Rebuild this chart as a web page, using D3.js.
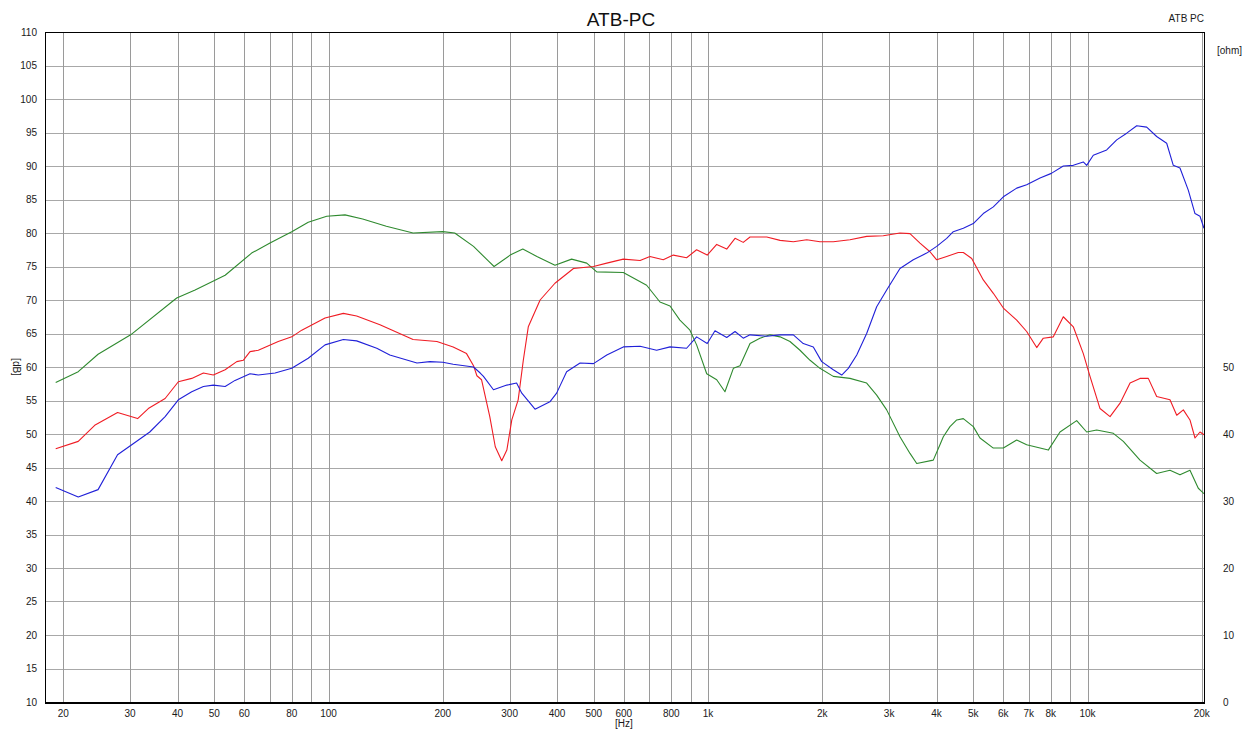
<!DOCTYPE html>
<html><head><meta charset="utf-8">
<script src="https://cdn.jsdelivr.net/npm/d3@7"></script>
<style>
html,body{margin:0;padding:0;background:#fff;}
svg{display:block;font-family:"Liberation Sans",Arial,sans-serif;}
</style></head>
<body>
<svg id="chart" width="1245" height="739"></svg>
<script>
// ---- data ----
const title = "ATB-PC";
const tagText = "ATB PC";
const gridFreqs = [20,30,40,50,60,70,80,90,100,200,300,400,500,600,700,800,900,1000,2000,3000,4000,5000,6000,7000,8000,9000,10000,20000];
const freqLabels = {20:"20",30:"30",40:"40",50:"50",60:"60",80:"80",100:"100",200:"200",300:"300",400:"400",500:"500",600:"600",800:"800",1000:"1k",2000:"2k",3000:"3k",4000:"4k",5000:"5k",6000:"6k",7000:"7k",8000:"8k",10000:"10k",20000:"20k"};
const dbTicks = d3.range(10, 111, 5);
const ohmTicks = [0,10,20,30,40,50];

const greenSeries = [[19.1,57.7],[21.9,59.3],[24.7,61.9],[30.1,64.8],[39.8,70.3],[44.5,71.5],[53.4,73.7],[62.7,77.0],[70.1,78.5],[80,80.2],[88.4,81.6],[98.9,82.5],[110.5,82.7],[123,82.1],[142,81.0],[167,80.0],[200,80.2],[215,80.0],[241,78.0],[264,75.8],[273,75.0],[301,76.7],[325,77.6],[354,76.5],[395,75.2],[437,76.1],[479,75.5],[509,74.2],[598,74.1],[689,72.2],[747,69.7],[794,69.1],[843,67.0],[896,65.5],[933,63.3],[992,59.0],[1054,58.1],[1108,56.3],[1166,59.8],[1214,60.2],[1290,63.5],[1370,64.3],[1456,64.8],[1548,64.5],[1644,63.8],[1747,62.5],[1857,61.0],[1972,59.8],[2138,58.6],[2366,58.3],[2618,57.6],[2782,55.8],[2956,53.6],[3204,49.6],[3405,47.1],[3547,45.6],[3922,46.1],[4084,48.4],[4168,49.6],[4340,51.1],[4521,52.1],[4706,52.3],[5000,51.1],[5207,49.4],[5646,47.9],[6000,47.9],[6506,49.1],[6912,48.4],[7496,47.9],[7880,47.6],[8460,50.3],[9362,52.0],[9948,50.3],[10570,50.6],[11694,50.1],[12424,48.9],[13746,46.1],[15210,44.1],[16490,44.6],[17520,43.9],[18616,44.6],[19580,41.9],[20270,41.1]];

const redSeries = [[19.1,47.8],[21.9,48.9],[24.2,51.3],[27.8,53.2],[31.4,52.3],[33.5,53.8],[37.1,55.3],[40.2,57.8],[43.6,58.3],[46.8,59.1],[49.7,58.8],[53.4,59.6],[57.3,60.8],[59.6,61.0],[62.1,62.3],[65.3,62.5],[73.7,63.8],[80,64.5],[85,65.5],[97.9,67.3],[109.4,68.0],[118.6,67.6],[136.6,66.3],[167,64.1],[193,63.8],[213,63.0],[231,62.0],[241,60.2],[246,58.7],[253,58.1],[266,52.6],[275,48.1],[286,46.0],[295,47.6],[304,52.1],[316,55.1],[326,61.0],[336,66.0],[361,70.0],[395,72.5],[442,74.7],[499,75.0],[541,75.5],[598,76.1],[662,75.9],[703,76.5],[762,76.0],[810,76.7],[878,76.3],[933,77.5],[995,76.7],[1054,78.3],[1120,77.6],[1178,79.2],[1238,78.6],[1290,79.4],[1428,79.4],[1548,78.9],[1678,78.7],[1820,79.0],[1972,78.7],[2138,78.7],[2366,79.0],[2618,79.5],[2896,79.6],[3204,80.0],[3405,79.9],[3618,78.5],[3844,77.2],[4004,76.0],[4254,76.5],[4564,77.1],[4706,77.1],[4952,76.2],[5312,73.0],[5646,71.0],[6000,68.8],[6506,67.0],[6912,65.3],[7346,62.9],[7646,64.3],[8124,64.5],[8632,67.5],[9172,66.0],[9746,62.0],[10150,58.6],[10786,53.8],[11462,52.6],[12180,54.6],[12942,57.6],[13746,58.3],[14458,58.3],[15210,55.6],[16490,55.1],[17178,52.8],[17882,53.6],[18616,52.1],[19192,49.4],[19784,50.3],[20270,49.9]];

const blueSeries = [[19.1,42.0],[21.9,40.6],[24.7,41.7],[27.8,46.9],[30.3,48.4],[33.8,50.3],[37.1,52.6],[40.2,55.1],[43.6,56.3],[46.8,57.1],[49.7,57.3],[53.4,57.1],[56.7,58.0],[62.1,59.0],[65.3,58.8],[72.3,59.1],[80,59.8],[88.4,61.3],[97.9,63.3],[109.4,64.1],[118.6,63.9],[134,62.8],[145,61.8],[171,60.6],[185,60.8],[200,60.7],[213,60.4],[241,60.0],[251,59.1],[256,58.6],[272,56.6],[295,57.3],[313,57.6],[323,56.1],[350,53.7],[383,54.8],[399,56.1],[424,59.3],[460,60.6],[499,60.5],[541,61.8],[598,63.0],[662,63.1],[732,62.5],[794,63.0],[878,62.8],[933,64.5],[995,63.5],[1043,65.4],[1120,64.4],[1178,65.3],[1238,64.3],[1290,64.8],[1428,64.6],[1548,64.8],[1678,64.8],[1782,63.5],[1894,63.0],[1993,60.8],[2138,59.6],[2250,58.8],[2342,59.8],[2465,61.8],[2618,65.0],[2782,69.0],[2956,71.5],[3204,74.7],[3474,76.0],[3768,77.0],[4004,78.0],[4254,79.2],[4428,80.2],[4706,80.7],[5000,81.4],[5312,82.9],[5646,83.9],[6000,85.4],[6506,86.7],[6912,87.2],[7496,88.2],[8028,88.9],[8632,90.0],[9172,90.1],[9746,90.6],[9948,90.1],[10354,91.6],[11232,92.4],[11936,93.9],[12682,94.9],[13476,96.0],[14316,95.8],[15210,94.4],[16164,93.4],[16824,90.1],[17520,89.7],[18426,86.4],[19192,82.9],[19784,82.5],[20270,80.7]];

// ---- chart ----
const svg = d3.select("#chart");
const L = 45, R = 1204, T = 32, B = 702;
const x = d3.scaleLog().domain([17.9, 20270]).range([L, R]);
const y = d3.scaleLinear().domain([10, 110]).range([B, T]);
const ohmY = d3.scaleLinear().domain([0, 100]).range([B, T]);
const px = v => Math.round(v) + 0.5;

const grid = svg.append("g").attr("shape-rendering","crispEdges");
grid.selectAll("line.h").data(dbTicks).join("line")
  .attr("x1", L).attr("x2", R).attr("y1", d => px(y(d))).attr("y2", d => px(y(d)))
  .attr("stroke", "#a8a8a8").attr("stroke-width", 1);
grid.selectAll("line.v").data(gridFreqs).join("line")
  .attr("y1", T).attr("y2", B).attr("x1", d => px(x(d))).attr("x2", d => px(x(d)))
  .attr("stroke", "#9a9a9a").attr("stroke-width", 1);

// curves
const line = d3.line().x(d => x(d[0])).y(d => y(d[1]));
svg.append("clipPath").attr("id","pc").append("rect").attr("x",L).attr("y",T).attr("width",R-L).attr("height",B-T);
const curves = svg.append("g").attr("clip-path","url(#pc)").attr("fill","none").attr("stroke-width",1.1).attr("stroke-linejoin","round");
curves.append("path").datum(greenSeries).attr("d", line).attr("stroke", "#2f8a2f");
curves.append("path").datum(redSeries).attr("d", line).attr("stroke", "#f01c24");
curves.append("path").datum(blueSeries).attr("d", line).attr("stroke", "#2020d8");

// frame
const frame = svg.append("g").attr("shape-rendering","crispEdges").attr("stroke","#000");
frame.append("line").attr("x1",L).attr("x2",R+1).attr("y1",T+0.5).attr("y2",T+0.5).attr("stroke-width",1);
frame.append("line").attr("x1",L).attr("x2",R+1).attr("y1",B+0.5).attr("y2",B+0.5).attr("stroke-width",2);
frame.append("line").attr("x1",L+0.5).attr("x2",L+0.5).attr("y1",T).attr("y2",B+1).attr("stroke-width",1.5);
frame.append("line").attr("x1",R+0.5).attr("x2",R+0.5).attr("y1",T).attr("y2",B+1).attr("stroke-width",1);

// left axis labels
const txt = svg.append("g").attr("fill","#1a1a1a").attr("font-size",10);
txt.selectAll("text.dl").data(dbTicks).join("text")
  .attr("x", 37).attr("y", d => y(d) + 3.5).attr("text-anchor","end").text(d => d);
// right axis labels
txt.selectAll("text.ol").data(ohmTicks).join("text")
  .attr("x", 1223).attr("y", d => ohmY(d) + 3.5).attr("text-anchor","start").text(d => d);
// bottom labels
txt.selectAll("text.fl").data(gridFreqs.filter(f => freqLabels[f])).join("text")
  .attr("x", d => x(d)).attr("y", 717).attr("text-anchor","middle").text(d => freqLabels[d]);
txt.append("text").attr("x", x(600)).attr("y", 727).attr("text-anchor","middle").text("[Hz]");
txt.append("text").attr("transform","translate(13,367) rotate(90)").attr("text-anchor","middle").text("[dB]");
txt.append("text").attr("x", 1217).attr("y", 54).text("[ohm]");
txt.append("text").attr("x", 1204).attr("y", 22).attr("text-anchor","end").text(tagText);
svg.append("text").attr("x", 621).attr("y", 26).attr("text-anchor","middle").attr("font-size",19).attr("fill","#111").text(title);
</script>
</body></html>
